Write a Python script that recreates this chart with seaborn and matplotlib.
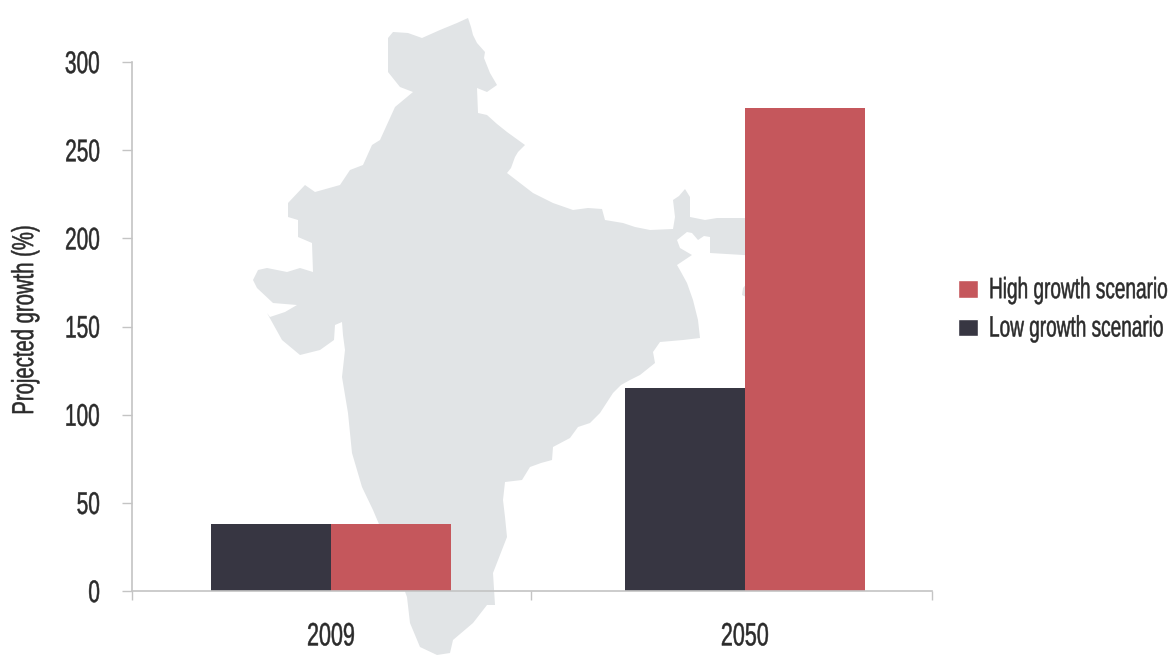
import matplotlib
matplotlib.use("Agg")
import matplotlib.pyplot as plt
from matplotlib.patches import Polygon, Patch
from matplotlib.patheffects import AbstractPathEffect
from matplotlib.transforms import Affine2D
import pandas as pd
import seaborn as sns

years = ["2009", "2050"]
low_growth = [38, 115]
high_growth = [38, 274]
y_ticks = [0, 50, 100, 150, 200, 250, 300]

dark = "#373642"
red = "#C5575C"
map_grey = "#E1E4E6"
axis_grey = "#C4C4C4"
text_col = "#2B2B2B"

# background map outline, in image pixels
india_outline = [
    (468, 18), (471, 27), (473, 35), (477, 43), (485, 52), (484, 58), (486, 63), (490, 73),
    (497, 85), (487, 92), (477, 88), (478, 113), (487, 115), (497, 124), (507, 132), (525, 145),
    (518, 152), (515, 157), (511, 168), (507, 173), (520, 183), (533, 193), (553, 203), (573, 210),
    (588, 208), (602, 209), (605, 220), (623, 223), (635, 227), (650, 230), (673, 229),
    (675, 217), (673, 200), (679, 196), (685, 189), (690, 197), (690, 217), (705, 220), (717, 218),
    (760, 218), (760, 256), (710, 253), (710, 237), (704, 236), (698, 240), (692, 233), (687, 232),
    (677, 240), (680, 248), (692, 255), (677, 265), (681, 272), (687, 283), (693, 300), (698, 320),
    (700, 338), (683, 340), (660, 342), (653, 352), (655, 363), (640, 375), (630, 380), (621, 385),
    (613, 393), (600, 413), (590, 423), (578, 427), (570, 438), (553, 447), (552, 460), (541, 463),
    (530, 467), (522, 480), (505, 482), (503, 500), (505, 517), (507, 537), (500, 555), (493, 573),
    (495, 605), (487, 605), (473, 623), (453, 640), (450, 653), (437, 655), (420, 647), (410, 623),
    (407, 597), (397, 570), (387, 543), (373, 510), (362, 487), (352, 453), (348, 413), (342, 377),
    (345, 350), (343, 335), (342, 322), (335, 325), (334, 340), (320, 350), (300, 355), (282, 340),
    (267, 313), (270, 317), (285, 312), (297, 305), (273, 303), (257, 288), (253, 280), (258, 270),
    (267, 268), (287, 272), (300, 268), (313, 272), (312, 243), (298, 237), (298, 220), (288, 217),
    (288, 203), (305, 185), (315, 192), (340, 185), (350, 170), (363, 165), (372, 145), (380, 140),
    (395, 107), (413, 92), (400, 87), (388, 72), (388, 38), (393, 32), (408, 33), (422, 38), (440, 30),
    (457, 23),
]
india_sliver = [(750, 280), (743, 288), (742, 295), (750, 299)]

df = pd.DataFrame({
    "year": years * 2,
    "growth": low_growth + high_growth,
    "scenario": ["Low growth scenario"] * 2 + ["High growth scenario"] * 2,
})


class TallText(AbstractPathEffect):
    # no condensed font installed, so stretch the glyphs across the baseline
    def __init__(self, stretch, stroke=0.35):
        super().__init__()
        self.stretch = stretch
        self.stroke = stroke

    def draw_path(self, renderer, gc, tpath, affine, rgbFace=None):
        box = tpath.get_extents()
        mid = (box.y0 + box.y1) / 2
        tall = Affine2D().translate(0, -mid).scale(1, self.stretch).translate(0, mid) + affine
        gc0 = renderer.new_gc()
        gc0.copy_properties(gc)
        gc0.set_foreground(rgbFace)
        gc0.set_linewidth(self.stroke)
        renderer.draw_path(gc0, tpath, tall, rgbFace)
        gc0.restore()


sns.set_style("white")
plt.rcParams["font.family"] = ["Liberation Sans", "DejaVu Sans"]

fig = plt.figure(figsize=(11.68, 6.55), dpi=100)
ax = fig.add_axes([132 / 1168, 64 / 655, 800 / 1168, 529 / 655])
ax.patch.set_visible(False)

to_pixels = Affine2D().scale(1 / 1168, -1 / 655).translate(0, 1) + fig.transFigure
for outline in (india_outline, india_sliver):
    fig.add_artist(Polygon(outline, closed=True, facecolor=map_grey, edgecolor="none",
                           transform=to_pixels, zorder=-1))

sns.barplot(data=df, x="year", y="growth", hue="scenario",
            palette={"Low growth scenario": dark, "High growth scenario": red},
            width=0.58, gap=0, saturation=1, linewidth=0, legend=False, ax=ax)

ax.set_xlim(-0.481, 1.452)
ax.set_ylim(0, 300)
ax.set_yticks(y_ticks)
ax.set_xlabel("")
ax.set_ylabel("Projected growth (%)", fontsize=14.6, color=text_col, va="center")
ax.yaxis.set_label_coords((25 - 132) / 800, (591 - 320) / 529)
ax.yaxis.label.set_path_effects([TallText(1.5)])

ax.set_xticks([0, 1], years)
ax.set_xticks([-0.481, 0.483, 1.452], minor=True)
ax.tick_params(axis="x", which="major", length=0, pad=25, labelsize=15.5, labelcolor=text_col)
ax.tick_params(axis="x", which="minor", direction="out", bottom=True, length=6.5, width=1, color=axis_grey)
ax.tick_params(axis="y", direction="out", left=True, length=7, width=1, color=axis_grey,
               pad=16, labelsize=15, labelcolor=text_col)
for label in ax.get_xticklabels() + ax.get_yticklabels():
    label.set_path_effects([TallText(1.5)])

sns.despine(ax=ax)
for side in ("left", "bottom"):
    ax.spines[side].set_color(axis_grey)
    ax.spines[side].set_linewidth(1.2)

handles = [Patch(facecolor=red, label="High growth scenario"),
           Patch(facecolor=dark, label="Low growth scenario")]
leg = fig.legend(handles=handles, loc="center left", bbox_to_anchor=(958 / 1168, 1 - 309 / 655),
                 frameon=False, fontsize=13.7, labelcolor=text_col, handlelength=1.05, handleheight=1.05,
                 handletextpad=0.58, labelspacing=1.0, borderpad=0, borderaxespad=0)
for text in leg.get_texts():
    text.set_path_effects([TallText(1.55)])

fig.savefig("out.png", dpi=100)
